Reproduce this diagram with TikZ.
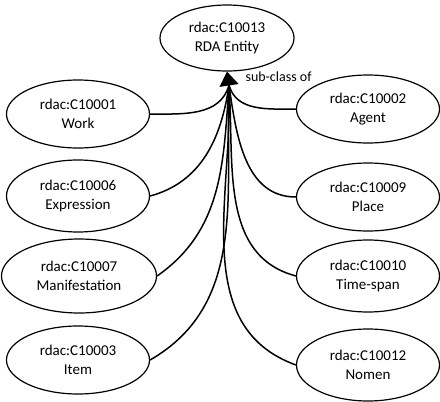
\documentclass[tikz,border=0pt]{standalone}
\usepackage{fontspec}
\setmainfont{Carlito}
\usetikzlibrary{arrows.meta,shapes.geometric}
\begin{document}
\begin{tikzpicture}[x=1pt,y=-1pt,
  cls/.style={draw,ellipse,line width=1.2pt,inner sep=0pt,minimum width=143pt,minimum height=68pt,align=center,font=\fontsize{15}{19}\selectfont},
  link/.style={line width=1.5pt}]
\useasboundingbox (0,0) rectangle (440,402);
\node[cls,minimum width=134pt,minimum height=66pt] (t) at (227,38) {rdac:C10013\\RDA Entity};
\node[cls] (work) at (78,114) {rdac:C10001\\Work};
\node[cls,minimum height=72pt] (expr) at (78,196) {rdac:C10006\\Expression};
\node[cls,minimum width=155pt,minimum height=74pt] (man) at (79,276) {rdac:C10007\\Manifestation};
\node[cls,minimum height=68pt] (item) at (78,360) {rdac:C10003\\Item};
\node[cls] (agent) at (368,109) {rdac:C10002\\Agent};
\node[cls] (place) at (368,197) {rdac:C10009\\Place};
\node[cls,minimum height=72pt] (time) at (368,276) {rdac:C10010\\Time-span};
\node[cls,minimum height=72pt] (nomen) at (368,365) {rdac:C10012\\Nomen};
\coordinate (j) at (229,85);
\draw[link,-{Triangle[length=14pt,width=19pt]}] (j) -- (t.south);
\draw[link] (work.east) to[out=0,in=255] (j);
\draw[link] (expr.east) to[out=15,in=262] (j);
\draw[link] (man.east) to[out=35,in=266] (j);
\draw[link] (item.east) to[out=30,in=268] (j);
\draw[link] (agent.west) to[out=180,in=-75] (j);
\draw[link] (place.west) to[out=180,in=-82] (j);
\draw[link] (time.west) to[out=165,in=-86] (j);
\draw[link] (nomen.west) to[out=160,in=-88] (j);
\node[font=\fontsize{14}{16}\selectfont,anchor=west] (lab) at (242,77) {sub-class of};
\end{tikzpicture}
\end{document}
